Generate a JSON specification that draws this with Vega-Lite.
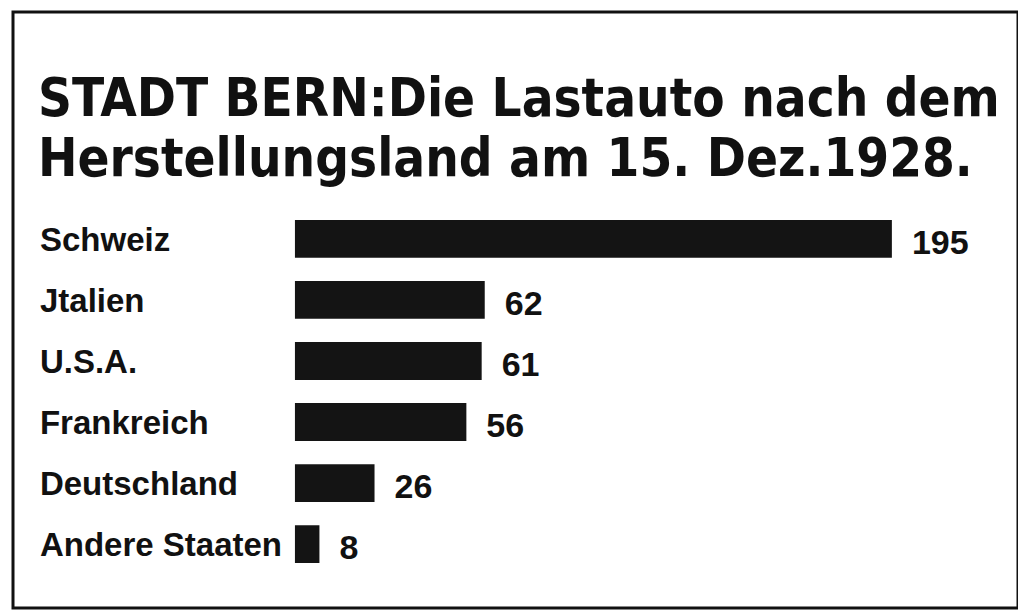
{
  "$schema": "https://vega.github.io/schema/vega-lite/v6.json",
  "autosize": "none",
  "width": 1005,
  "height": 596,
  "padding": {"left": 13, "top": 12, "right": 0, "bottom": 3},
  "background": "#ffffff",
  "config": {
    "view": {"stroke": "#111111", "strokeWidth": 3},
    "font": "Liberation Sans"
  },
  "title": {
    "text": ["STADT BERN:Die Lastauto nach dem", "Herstellungsland am 15. Dez.1928."],
    "anchor": "start",
    "frame": "group",
    "orient": "top",
    "baseline": "alphabetic",
    "offset": 0,
    "dx": 25,
    "dy": 216,
    "font": "Liberation Sans Narrow, DejaVu Sans Condensed, Liberation Sans",
    "fontSize": 52.5,
    "fontWeight": "bold",
    "lineHeight": 60,
    "color": "#111111"
  },
  "data": {
    "values": [
      {"land": "Schweiz", "n": 195},
      {"land": "Jtalien", "n": 62},
      {"land": "U.S.A.", "n": 61},
      {"land": "Frankreich", "n": 56},
      {"land": "Deutschland", "n": 26},
      {"land": "Andere Staaten", "n": 8}
    ]
  },
  "encoding": {
    "y": {
      "field": "land",
      "type": "nominal",
      "sort": null,
      "axis": null,
      "scale": {"range": [208, 551], "paddingInner": 0.38, "paddingOuter": 0}
    }
  },
  "layer": [
    {
      "mark": {"type": "bar", "color": "#141414"},
      "encoding": {
        "x": {"field": "n", "type": "quantitative", "axis": null, "scale": {"domain": [-92.1, 236.2], "zero": false, "nice": false}}
      }
    },
    {
      "mark": {"type": "text", "align": "left", "baseline": "middle", "dx": 20, "dy": 5, "fontSize": 34, "fontWeight": "bold", "color": "#111111"},
      "encoding": {
        "x": {"field": "n", "type": "quantitative"},
        "text": {"field": "n", "type": "quantitative"}
      }
    },
    {
      "mark": {"type": "text", "align": "left", "baseline": "middle", "dy": 2, "fontSize": 33, "fontWeight": "bold", "color": "#111111"},
      "encoding": {
        "x": {"datum": -83.3},
        "text": {"field": "land", "type": "nominal"}
      }
    }
  ]
}
